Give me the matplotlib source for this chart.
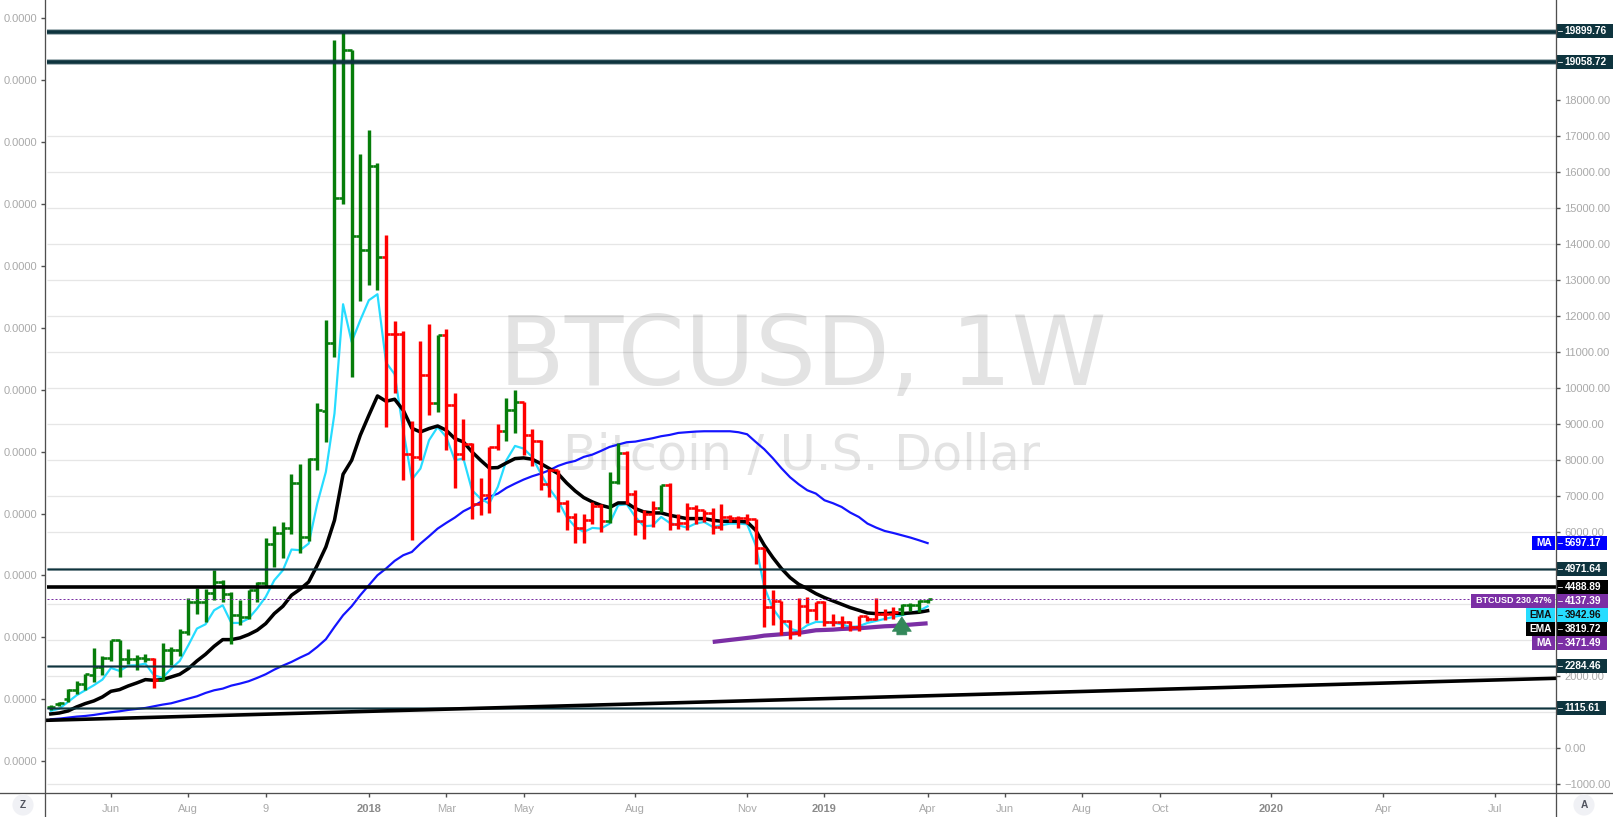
import matplotlib
matplotlib.use('Agg')
import matplotlib.pyplot as plt
from matplotlib.lines import Line2D
from matplotlib.patches import Rectangle

plt.rcParams['font.family'] = ['Liberation Sans', 'DejaVu Sans']

opens = [1148, 1241, 1380, 1611, 1796, 2028, 2259, 2519, 3000, 2491, 2491, 2519, 2491, 1907, 2741, 2722, 3231, 4056, 4056, 4324,
         4611, 4278, 3713, 3648, 4389, 4602, 5685, 5991, 6130, 7380, 5870, 8046, 9367, 11266, 15293, 19384, 14218, 13849, 16162, 13643,
         11516, 11516, 8164, 8089, 10377, 9589, 11469, 9525, 8184, 8442, 6795, 7026, 8367, 8803, 9386, 9617, 8692, 8534, 7331, 7720,
         6812, 6423, 6129, 6332, 6720, 6312, 7395, 8212, 7073, 6304, 6518, 6684, 7323, 6220, 6248, 6684, 6609, 6545, 6146, 6423,
         6395, 6406, 6368, 5562, 3924, 4091, 3535, 3202, 3943, 3832, 4063, 3507, 3507, 3507, 3369, 3666, 3602, 3741, 3741, 3880,
         3971, 3971, 4082]
highs = [1194, 1287, 1657, 1870, 2074, 2796, 2565, 3000, 3000, 2769, 2602, 2630, 2519, 2926, 2815, 3306, 4185, 4454, 4417, 4944,
         4685, 4343, 4111, 4389, 4620, 5852, 6176, 6287, 7630, 7880, 8065, 9574, 11886, 19680, 19875, 19384, 16495, 17181, 16265, 14246,
         11858, 11580, 9080, 11302, 11774, 11488, 11636, 9878, 9156, 8478, 7517, 8367, 9017, 9739, 9942, 9617, 8878, 8553, 7767, 7720,
         6887, 6545, 6518, 6840, 6776, 7673, 8478, 8256, 7165, 6609, 6868, 7323, 7379, 6518, 6823, 6748, 6629, 6684, 6795, 6470,
         6443, 6518, 6379, 5562, 4407, 4091, 3555, 4174, 4202, 4063, 4091, 3741, 3666, 3535, 3666, 3666, 4185, 3880, 3924, 4018,
         4035, 4110, 4157]
lows = [1056, 1167, 1287, 1519, 1611, 1843, 2028, 2426, 1981, 2352, 2185, 2398, 1685, 1861, 2306, 2565, 3139, 3741, 3509, 4130,
        4065, 2907, 3435, 3602, 4065, 4500, 5037, 5296, 5963, 5426, 5759, 7722, 8506, 10866, 15126, 10311, 12422, 12857, 12719, 8922,
        9867, 7442, 5776, 7998, 9247, 9339, 8295, 7240, 8017, 6379, 6470, 6534, 8275, 8534, 8756, 8137, 7840, 7165, 6979, 6562,
        6073, 5701, 5701, 6240, 6007, 6257, 7331, 6795, 5934, 5823, 6146, 6562, 6054, 6101, 6073, 6240, 6284, 5962, 6073, 6284,
        6129, 6220, 5129, 3369, 3435, 3138, 3046, 3110, 3480, 3555, 3396, 3396, 3341, 3257, 3257, 3535, 3555, 3574, 3602, 3694,
        3813, 3785, 4035]
closes = [1148, 1259, 1611, 1796, 2056, 2259, 2519, 3000, 2491, 2491, 2519, 2491, 1907, 2741, 2722, 3231, 4056, 4056, 4324, 4611,
          4278, 3713, 3648, 4389, 4602, 5685, 5991, 6130, 7380, 5870, 8046, 9389, 11266, 15293, 19384, 14218, 13849, 16162, 13643, 11516,
          11516, 8164, 8089, 10377, 9589, 11469, 9525, 8184, 8442, 6795, 7026, 8367, 8803, 9386, 9617, 8692, 8534, 7331, 7720, 6812,
          6423, 6129, 6332, 6720, 6312, 7395, 8212, 7073, 6304, 6518, 6684, 7323, 6220, 6248, 6684, 6609, 6545, 6146, 6423, 6395,
          6406, 6379, 5562, 3924, 4091, 3535, 3202, 3943, 3832, 4063, 3507, 3507, 3507, 3369, 3666, 3602, 3741, 3741, 3777, 3971,
          3971, 4082, 4137]
bar_dirs = ['g'] * 12 + ['r'] + ['g'] * 26 + ['r'] * 6 + ['g'] + ['r'] * 7 + ['g'] * 2 + ['r'] * 10 + ['g'] * 2 + ['r'] * 4 + ['g'] + ['r'] * 27 + ['g'] * 4

ema_fast = [1037, 1102, 1287, 1472, 1611, 1750, 1907, 2231, 2148, 2296, 2306, 2352, 2028, 1954, 2213, 2426, 2861, 3324, 3444, 3833,
            3972, 3481, 3481, 3602, 3880, 4204, 4667, 4944, 5519, 5500, 5685, 6796, 7676, 9295, 12330, 11283, 11886, 12441, 12608, 10711,
            10386, 8831, 7462, 7767, 8553, 8922, 8645, 7998, 8045, 7165, 6933, 6795, 7258, 7998, 8396, 8322, 8091, 7628, 7211, 6887,
            6424, 6147, 6008, 6119, 6100, 6239, 6748, 6776, 6424, 6165, 6184, 6424, 6258, 6193, 6128, 6239, 6285, 6147, 6193, 6239,
            6239, 6221, 5638, 4480, 3879, 3555, 3323, 3249, 3416, 3508, 3508, 3490, 3444, 3370, 3388, 3481, 3536, 3592, 3647, 3694,
            3758, 3814, 3943]
ema_slow = [954, 981, 1037, 1148, 1241, 1315, 1426, 1583, 1630, 1731, 1815, 1907, 1889, 1907, 1981, 2056, 2213, 2426, 2611, 2833,
            3018, 3018, 3065, 3157, 3278, 3463, 3741, 3944, 4250, 4417, 4620, 5083, 5592, 6332, 7609, 7998, 8692, 9247, 9783, 9636,
            9692, 9386, 8886, 8784, 8878, 8950, 8831, 8600, 8507, 8230, 7998, 7785, 7794, 7924, 8044, 8063, 8026, 7905, 7767, 7628,
            7369, 7146, 6961, 6841, 6748, 6684, 6813, 6813, 6656, 6563, 6535, 6535, 6471, 6424, 6378, 6378, 6378, 6332, 6304, 6304,
            6304, 6285, 6054, 5638, 5295, 4990, 4740, 4554, 4434, 4295, 4184, 4092, 3999, 3906, 3832, 3758, 3740, 3740, 3758, 3740,
            3758, 3777, 3820]
ma_blue = [806, 824, 852, 880, 898, 926, 963, 1000, 1028, 1065, 1093, 1120, 1167, 1213, 1250, 1315, 1380, 1444, 1537, 1611,
           1657, 1741, 1796, 1861, 1954, 2056, 2185, 2296, 2398, 2519, 2630, 2815, 3028, 3370, 3694, 3944, 4250, 4528, 4805, 4991,
           5204, 5361, 5452, 5684, 5887, 6100, 6258, 6406, 6582, 6702, 6841, 6980, 7072, 7230, 7350, 7461, 7554, 7628, 7720, 7841,
           7924, 7979, 8091, 8155, 8257, 8368, 8433, 8498, 8516, 8563, 8609, 8665, 8702, 8757, 8776, 8794, 8803, 8803, 8803, 8803,
           8776, 8720, 8507, 8303, 8053, 7776, 7526, 7331, 7165, 7073, 6887, 6804, 6701, 6545, 6423, 6240, 6129, 6035, 5979, 5915,
           5851, 5776, 5697]
# purple MA only runs over the last bars
ma_purple_start = 77
ma_purple = [2953, 2981, 3009, 3036, 3064, 3092, 3129, 3147, 3166, 3184, 3203, 3240, 3277, 3286, 3295, 3314, 3323, 3333, 3351, 3370,
             3388, 3397, 3416, 3434, 3453, 3471]

levels_thick = [19899.76, 19058.72]
levels_thin = [4971.64, 2284.46, 1115.61]
level_black = 4488.89
last_close = 4137.39
trend_start = 778
trend_end = 1944

right_ticks = list(range(-1000, 19000, 1000))
# these sit behind the price tags in the picture
hidden_ticks = [1000, 3000, 4000, 5000]
left_ticks = [-361, 1359, 3078, 4798, 6518, 8237, 9957, 11677, 13396, 15116, 16836, 18555, 20275]
x_ticks = [7, 16, 25, 37, 46, 55, 68, 81, 90, 102, 111, 120, 129, 142, 155, 168]
x_labels = ['Jun', 'Aug', '9', '2018', 'Mar', 'May', 'Aug', 'Nov', '2019', 'Apr', 'Jun', 'Aug', 'Oct', '2020', 'Apr', 'Jul']

# (name, value, y of tag in px, left edge, right edge, colour, text colour)
tags = [
    ('', '19899.76', 31, 1556, 1613, '#0e343e', 'white'),
    ('', '19058.72', 62, 1556, 1613, '#0e343e', 'white'),
    ('MA', '5697.17', 542.5, 1532, 1607, '#0000ff', 'white'),
    ('', '4971.64', 569, 1556, 1607, '#0e343e', 'white'),
    ('', '4488.89', 586.5, 1556, 1608, '#000000', 'white'),
    ('BTCUSD 230.47%', '4137.39', 600.5, 1471, 1608, '#7b2fa5', 'white'),
    ('EMA', '3942.96', 615, 1526, 1608, '#26dcff', '#101010'),
    ('EMA', '3819.72', 629, 1526, 1607, '#000000', 'white'),
    ('MA', '3471.49', 643, 1532, 1607, '#7b2fa5', 'white'),
    ('', '2284.46', 666, 1556, 1607, '#0e343e', 'white'),
    ('', '1115.61', 708, 1556, 1606, '#0e343e', 'white'),
]

W, H = 1613, 817
PX = 0.72  # one pixel in points at dpi 100
GREY = '#a9a9a9'
AXIS = '#4f4f4f'
LABEL_SIZE = 8

fig = plt.figure(figsize=(W / 100, H / 100), dpi=100)
ax = fig.add_axes([45 / W, (H - 793) / H, (1556 - 45) / W, 793 / H])
xmin, xmax = -0.675, 175.1
ymin, ymax = -1241, 20777
line_start = -0.45
ax.set_xlim(xmin, xmax)
ax.set_ylim(ymin, ymax)

ax.hlines(right_ticks[:-1], line_start, xmax, color='#e6e6e6', lw=1.3 * PX, zorder=1)

ax.text((803 - 45) / (1556 - 45), (793 - 385) / 793, 'BTCUSD, 1W', family='DejaVu Sans', fontsize=69,
        color='black', alpha=0.11, ha='center', va='baseline', transform=ax.transAxes, zorder=2)
ax.text((802 - 45) / (1556 - 45), (793 - 470) / 793, 'Bitcoin / U.S. Dollar', family='DejaVu Sans', fontsize=35.5,
        color='black', alpha=0.11, ha='center', va='baseline', transform=ax.transAxes, zorder=2)

xs = list(range(len(closes)))
ax.plot(xs, ma_blue, color='#1414ff', lw=2.2 * PX, zorder=3)
ax.plot(xs, ema_fast, color='#26dcff', lw=2.2 * PX, zorder=3)
ax.plot(xs, ema_slow, color='black', lw=3.5 * PX, zorder=3)
ax.plot(xs[ma_purple_start:], ma_purple, color='#7b2fa5', lw=4.2 * PX, solid_capstyle='butt', zorder=3)

# ohlc bars
for d, c in (('g', '#067d0a'), ('r', '#ff0000')):
    idx = [i for i in xs if bar_dirs[i] == d]
    ax.vlines(idx, [lows[i] for i in idx], [highs[i] for i in idx], color=c, lw=3.4 * PX, capstyle='butt', zorder=4)
    ax.hlines([opens[i] for i in idx], [i - 0.5 for i in idx], idx, color=c, lw=2.6 * PX, capstyle='butt', zorder=4)
    ax.hlines([closes[i] for i in idx], idx, [i + 0.5 for i in idx], color=c, lw=2.6 * PX, capstyle='butt', zorder=4)

# horizontal levels
ax.hlines(levels_thick, line_start, xmax, color='#0e343e', lw=5.5 * PX, alpha=0.45, zorder=5)
ax.hlines(levels_thick, line_start, xmax, color='#0e343e', lw=3.6 * PX, zorder=5)
ax.hlines(levels_thin, line_start, xmax, color='#0e343e', lw=3 * PX, alpha=0.5, zorder=5)
ax.hlines(levels_thin, line_start, xmax, color='#0e343e', lw=1.3 * PX, zorder=5)
ax.hlines(level_black, line_start, xmax, color='black', lw=3.6 * PX, zorder=5)
ax.hlines(last_close, line_start, xmax, color='#7b2fa5', lw=1 * PX, linestyles=(0, (2, 2)), zorder=5)
ax.plot([line_start, xmax], [trend_start, trend_end], color='black', lw=3.6 * PX, zorder=5)

# arrow below the last bars
ax.annotate('', xy=(99, 3650), xytext=(0, -18), textcoords='offset pixels',
            arrowprops=dict(arrowstyle='simple,head_length=0.8,head_width=1.05,tail_width=0.55',
                            mutation_scale=13, fc='#33885a', ec='#33885a', lw=0.5, shrinkA=0, shrinkB=0), zorder=6)

# axes
for side in ('top', 'bottom', 'left', 'right'):
    ax.spines[side].set_visible(False)
ax.set_xticks(x_ticks)
ax.set_xticklabels(x_labels)
ax.tick_params(axis='x', length=3, width=1, color=AXIS, labelcolor=GREY, labelsize=LABEL_SIZE, pad=5)
for lab in ax.get_xticklabels():
    if lab.get_text().isdigit() and len(lab.get_text()) == 4:
        lab.set_color('#8a8a8a')
        lab.set_fontweight('bold')
ax.set_yticks(left_ticks)
ax.set_yticklabels(['0.0000'] * len(left_ticks))
ax.tick_params(axis='y', length=3, width=1, color=AXIS, labelcolor=GREY, labelsize=LABEL_SIZE, pad=2.5)

ax2 = ax.twinx()
ax2.set_ylim(ymin, ymax)
ax2.set_yticks(right_ticks)
right_labels = []
for v in right_ticks:
    if v in hidden_ticks:
        right_labels.append('')
    elif v < 0:
        right_labels.append('\u2212%.2f' % -v)
    else:
        right_labels.append('%.2f' % v)
ax2.set_yticklabels(right_labels)
ax2.tick_params(axis='y', length=3, width=1, color=AXIS, labelcolor=GREY, labelsize=LABEL_SIZE, pad=3)
for side in ('top', 'bottom', 'left', 'right'):
    ax2.spines[side].set_visible(False)

# frame and price tags are drawn in pixel space on top of everything
over = fig.add_axes([0, 0, 1, 1], zorder=10)
over.set_xlim(0, W)
over.set_ylim(H, 0)
over.axis('off')
over.add_line(Line2D([0, W], [793, 793], color=AXIS, lw=1.3 * PX))
over.add_line(Line2D([45, 45], [0, H], color=AXIS, lw=1.3 * PX))
over.add_line(Line2D([1556, 1556], [0, H], color=AXIS, lw=1.3 * PX))

for name, value, y, left, right, bg, fg in tags:
    over.add_patch(Rectangle((1557, y - 7), right - 1557, 14, fc=bg, ec='none'))
    over.add_line(Line2D([1558, 1561.5], [y, y], color=fg, lw=0.8 * PX))
    over.text(1564.5, y + 0.3, value, color=fg, fontsize=7.3, fontweight='bold', ha='left', va='center')
    if name:
        over.add_patch(Rectangle((left, y - 7), 1555.2 - left, 14, fc=bg, ec='none'))
        over.text(1552, y + 0.3, name, color=fg, fontsize=6.5 if len(name) > 3 else 7.3, fontweight='bold',
                  ha='right', va='center')

for x, s in ((23, 'Z'), (1584, 'A')):
    over.text(x, 805, s, color='#50535e', fontsize=7.3, fontweight='bold', ha='center', va='center',
              bbox=dict(boxstyle='circle,pad=0.55', fc='#f0f1f5', ec='none'))

fig.savefig('out.png', dpi=100)
